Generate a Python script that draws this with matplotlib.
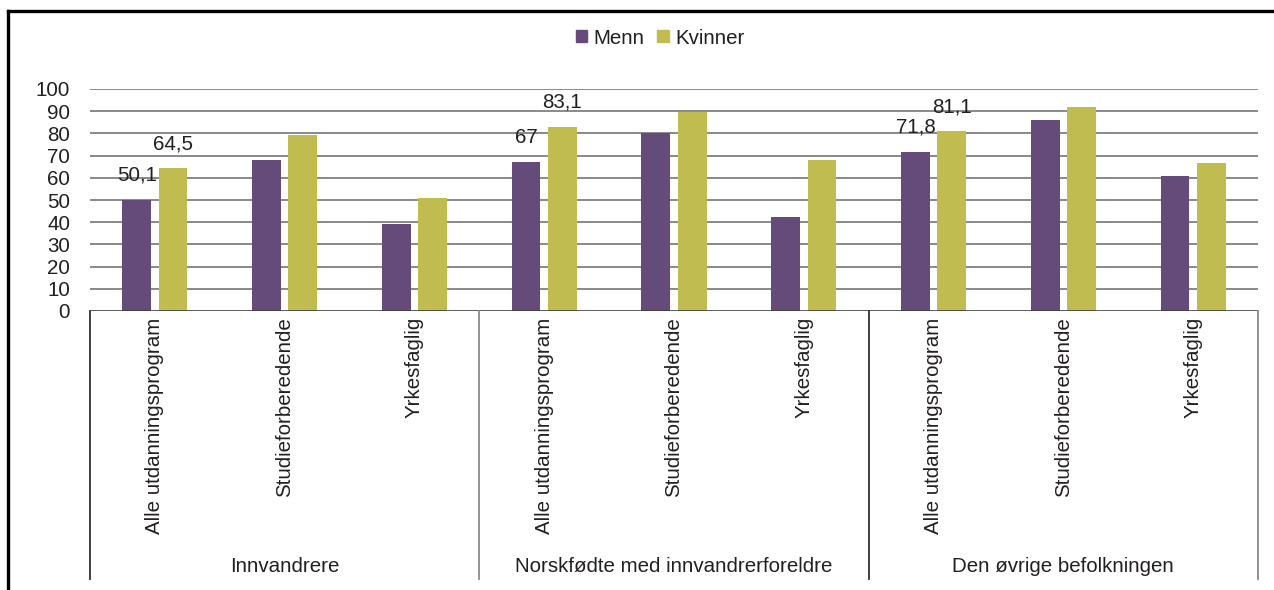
import matplotlib
matplotlib.use("Agg")
import matplotlib.pyplot as plt
import matplotlib.transforms as mtransforms
from matplotlib.lines import Line2D
from matplotlib.patches import Patch
import numpy as np

plt.rcParams["font.family"] = ["Liberation Sans", "DejaVu Sans"]

# ── data ──
groups = ["Innvandrere", "Norskfødte med innvandrerforeldre", "Den øvrige befolkningen"]
programs = ["Alle utdanningsprogram", "Studieforberedende", "Yrkesfaglig"]
menn = [50.1, 68.0, 39.0, 67.0, 80.0, 42.5, 71.8, 86.0, 60.8]
kvinner = [64.5, 79.5, 51.0, 83.1, 89.5, 68.0, 81.1, 92.0, 66.8]
labelled = [0, 3, 6]  # categories that carry value labels
yticks = list(range(0, 101, 10))

PURPLE = "#644B79"
OLIVE = "#C0BC50"
TXT = "#231F20"
GRID = "#808080"
FS = 14.8

W, H = 1274, 590
fig = plt.figure(figsize=(W / 100, H / 100), dpi=100)
ax = fig.add_axes([90 / W, 1 - 311 / H, (1258 - 90) / W, (311 - 89) / H])

cats = [p for g in groups for p in programs]
x = np.arange(len(cats))
bw = 0.222
off = 0.14

ax.bar(x - off, menn, bw, color=PURPLE, zorder=3, label="Menn")
ax.bar(x + off, kvinner, bw, color=OLIVE, zorder=3, label="Kvinner")

def fmt(v):
    return f"{v:g}".replace(".", ",")

for i in labelled:
    for xi, v in ((x[i] - off, menn[i]), (x[i] + off, kvinner[i])):
        ax.annotate(fmt(v), (xi, v), xytext=(0, 17.5), textcoords="offset points",
                    ha="center", va="center", fontsize=FS, color=TXT)

# grid lines
for y in yticks[1:]:
    ax.axhline(y, color=GRID, lw=1.3, zorder=1)
ax.axhline(0, color="#404040", lw=1.2, zorder=4)

ax.set_xlim(-0.5, len(cats) - 0.5)
ax.set_ylim(0, 100)
ax.set_yticks(yticks)
ax.set_yticklabels([str(t) for t in yticks], fontsize=FS, color=TXT)
ax.set_xticks(x)
ax.set_xticklabels(cats, rotation=90, fontsize=FS, color=TXT, va="top", ha="center")
ax.tick_params(axis="both", length=0)
ax.tick_params(axis="y", pad=14.4)
ax.tick_params(axis="x", pad=4.5)
for s in ax.spines.values():
    s.set_visible(False)

trans = mtransforms.blended_transform_factory(ax.transData, ax.transAxes)
y_low = (311 - 579) / (311 - 89)
for k, xs in enumerate([-0.5, 2.5, 5.5, 8.5]):
    col = "#303030" if k in (0, 2) else "#8A8A8A"
    ax.plot([xs, xs], [0, y_low], color=col, lw=1.3, transform=trans, clip_on=False, zorder=4)

y_grp = (311 - 566) / (311 - 89)
for gi, g in enumerate(groups):
    ax.text(gi * 3 + 1, y_grp, g, transform=trans, ha="center", va="center",
            fontsize=FS, color=TXT)

handles = [Patch(color=PURPLE, label="Menn"), Patch(color=OLIVE, label="Kvinner")]
fig.legend(handles=handles, loc="center", bbox_to_anchor=(660 / W, 1 - 38 / H),
           ncol=2, frameon=False, fontsize=FS, handlelength=0.55, handleheight=0.55,
           handletextpad=0.3, columnspacing=0.65, borderpad=0.2, labelcolor=TXT)

# outer frame: top and left only
fig.add_artist(Line2D([8 / W, 1], [1 - 11 / H, 1 - 11 / H], color="black", lw=2.4,
                      transform=fig.transFigure))
fig.add_artist(Line2D([8 / W, 8 / W], [0, 1 - 11 / H], color="black", lw=2.4,
                      transform=fig.transFigure))

fig.savefig("out.png", dpi=100, facecolor="white")
